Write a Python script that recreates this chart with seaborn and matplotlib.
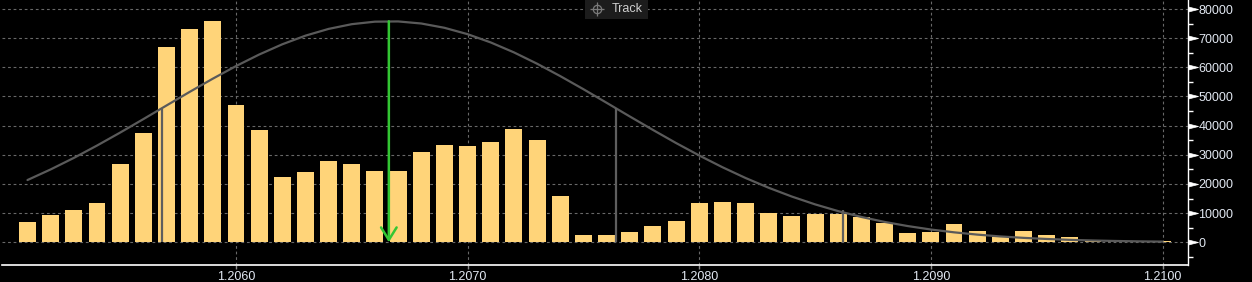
import numpy as np
import pandas as pd
import matplotlib
matplotlib.use("Agg")
import matplotlib.pyplot as plt
import seaborn as sns
from matplotlib.ticker import FixedLocator, MultipleLocator
from matplotlib.patches import Rectangle
from matplotlib.lines import Line2D

# ---- data ----
prices = [1.2051, 1.2052, 1.2053, 1.2054, 1.2055, 1.2056, 1.2057, 1.2058, 1.2059, 1.2060,
          1.2061, 1.2062, 1.2063, 1.2064, 1.2065, 1.2066, 1.2067, 1.2068, 1.2069, 1.2070,
          1.2071, 1.2072, 1.2073, 1.2074, 1.2075, 1.2076, 1.2077, 1.2078, 1.2079, 1.2080,
          1.2081, 1.2082, 1.2083, 1.2084, 1.2085, 1.2086, 1.2087, 1.2088, 1.2089, 1.2090,
          1.2091, 1.2092, 1.2093, 1.2094, 1.2095, 1.2096, 1.2097, 1.2098, 1.2099, 1.2100]
volumes = [7000, 9400, 11100, 13500, 26900, 37500, 67000, 73100, 75900, 47100,
           38500, 22400, 24100, 27900, 26900, 24500, 24500, 31000, 33400, 33000,
           34400, 38900, 35100, 15900, 2500, 2500, 3500, 5600, 7300, 13500,
           13800, 13500, 10200, 9000, 9700, 9700, 8700, 6600, 3200, 3500,
           6300, 3900, 1800, 3900, 2500, 1800, 800, 450, 300, 300]
fit_curve = [21350, 24990, 28930, 33170, 37620, 42230, 46910, 51570, 56110, 60420,
             64380, 67900, 70860, 73180, 74800, 75660, 75740, 75030, 73560, 71370,
             68530, 65130, 61240, 56990, 52500, 47850, 43160, 38540, 34040, 29770,
             25750, 22050, 18690, 15680, 13010, 10690, 8690, 6990, 5570, 4380,
             3420, 2640, 2010, 1520, 1140, 840, 620, 450, 320, 230]
band_x = [1.20568, 1.20764, 1.20862]
band_top = [45600, 45900, 11000]
mean_x = 1.20666
mean_top = 75800
x_ticks = [1.2060, 1.2070, 1.2080, 1.2090, 1.2100]
y_ticks = [0, 10000, 20000, 30000, 40000, 50000, 60000, 70000, 80000]

df = pd.DataFrame({"price": prices, "volume": volumes, "fit": fit_curve})

sns.set_style("dark")
plt.rcParams["font.family"] = ["Liberation Sans", "DejaVu Sans"]

W, H = 1252, 282
fig = plt.figure(figsize=(W / 100, H / 100), dpi=100, facecolor="black")
ax = fig.add_axes([2 / W, 17 / H, 1186 / W, 265 / H], facecolor="black")

sns.barplot(data=df, x="price", y="volume", native_scale=True, width=0.73,
            color="#FFD479", saturation=1, errorbar=None, linewidth=0, ax=ax, zorder=2)
sns.lineplot(data=df, x="price", y="fit", color="#5a5a5a", linewidth=1.6, ax=ax, zorder=3)
ax.vlines(band_x, 0, band_top, colors="#5e5e5e", linewidth=1.6, zorder=3)
ax.annotate("", xy=(mean_x, 0), xytext=(mean_x, mean_top),
            arrowprops=dict(arrowstyle="->,head_length=0.45,head_width=0.28",
                            mutation_scale=20, color="#33c633", lw=1.8,
                            shrinkA=0, shrinkB=0), zorder=4)

ax.set_xlim(1.20499, 1.21011)
ax.set_ylim(-7785, 83090)
ax.set_xlabel("")
ax.set_ylabel("")

ax.xaxis.set_major_locator(FixedLocator(x_ticks))
ax.set_xticklabels([f"{v:.4f}" for v in x_ticks])
ax.yaxis.set_major_locator(FixedLocator(y_ticks))
ax.set_yticklabels([str(v) for v in y_ticks])
ax.yaxis.set_minor_locator(MultipleLocator(5000))

ax.yaxis.tick_right()
ax.tick_params(axis="y", which="major", right=True, left=False, labelright=True,
               labelleft=False, length=5, width=1, color="white", pad=2.5,
               labelsize=9, labelcolor="#e2e8f2")
ax.tick_params(axis="y", which="minor", right=True, left=False, length=3.5,
               width=1, color="white")
ax.tick_params(axis="x", which="major", bottom=True, length=3, width=1,
               color="#8a8a8a", pad=1.5, labelsize=9, labelcolor="#e2e8f2")
tri = [(0, -1), (4, 0), (0, 1)]
for t in ax.yaxis.get_major_ticks():
    t.tick2line.set_marker(tri)
    t.tick2line.set_markersize(14.4)
    t.tick2line.set_markerfacecolor("white")
    t.tick2line.set_markeredgewidth(0.5)

ax.grid(True, which="major", axis="both", color="#686868", linewidth=0.8,
        linestyle=(0, (2.5, 2.5)))
ax.set_axisbelow(True)
for s in ["left", "top"]:
    ax.spines[s].set_visible(False)
ax.spines["right"].set_color("white")
ax.spines["right"].set_linewidth(1)
ax.spines["bottom"].set_color("white")
ax.spines["bottom"].set_linewidth(1.2)

# "Track" button
fig.add_artist(Rectangle((585 / W, 1 - 19 / H), 63 / W, 19 / H, transform=fig.transFigure,
                         facecolor="#1c1c1c", edgecolor="none", zorder=5))
fig.add_artist(Line2D([597 / W], [1 - 9 / H], marker="o", markersize=6, mfc="none",
                      mec="#7a7a7a", mew=0.9, transform=fig.transFigure, zorder=6))
fig.add_artist(Line2D([597 / W], [1 - 9 / H], marker="+", markersize=10,
                      mec="#7a7a7a", mew=0.9, transform=fig.transFigure, zorder=6))
fig.text(612 / W, 1 - 9.5 / H, "Track", color="#cfcfcf", fontsize=9,
         ha="left", va="center", zorder=7)

fig.savefig("out.png", dpi=100, facecolor="black")
